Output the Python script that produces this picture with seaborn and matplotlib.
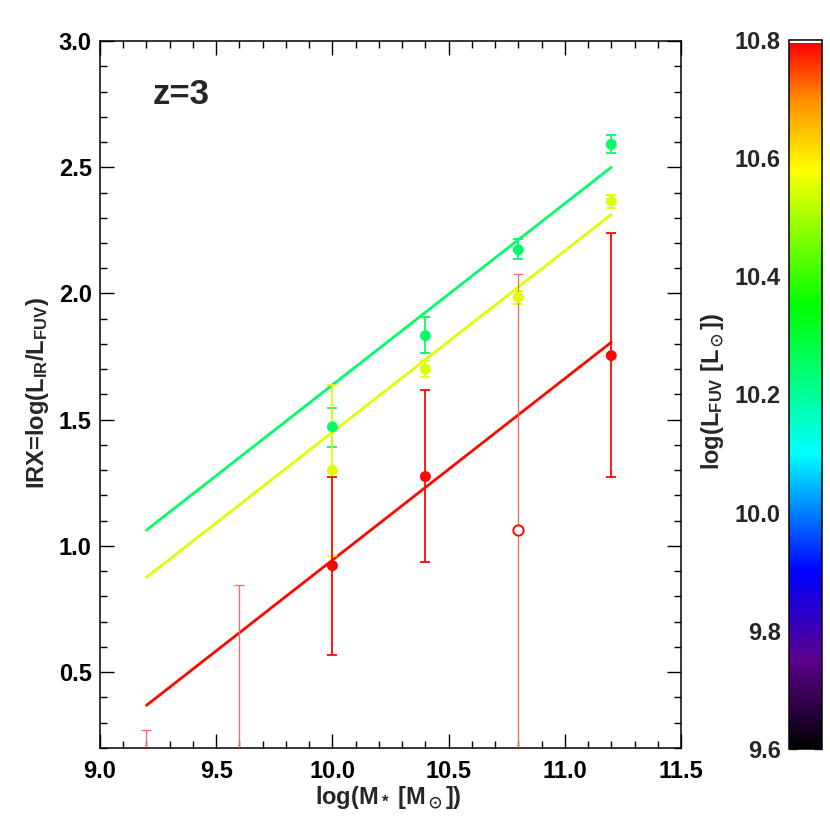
import matplotlib

matplotlib.use("Agg")
import matplotlib.pyplot as plt
import pandas as pd
import seaborn as sns
from matplotlib.cm import ScalarMappable
from matplotlib.colors import LinearSegmentedColormap, Normalize
from matplotlib.ticker import MultipleLocator


# log(L_FUV) of the three bins (sets the colour through the colour bar)
bin_lfuv = [10.25, 10.55, 10.79]

# fitted IRX - M* relations, drawn between these masses
fit_mass = [9.2, 11.2]
fit_start = [1.063, 0.876, 0.369]
fit_end = [2.500, 2.313, 1.807]

# measured points per bin
mass = [10.0, 10.4, 10.8, 11.2]
irx_green = [1.472, 1.833, 2.173, 2.591]
lo_green = [1.393, 1.763, 2.135, 2.557]
hi_green = [1.547, 1.906, 2.214, 2.626]

irx_yellow = [1.300, 1.700, 1.985, 2.365]
lo_yellow = [0.960, 1.670, 1.960, 2.340]
hi_yellow = [1.639, 1.734, 2.010, 2.389]

mass_red = [10.0, 10.4, 11.2]
irx_red = [0.922, 1.275, 1.754]
lo_red = [0.567, 0.935, 1.275]
hi_red = [1.275, 1.619, 2.240]

# faint red bins (upper ends only inside the plot)
mass_faint = [9.2, 9.6, 10.8]
lo_faint = [0.0, 0.0, 0.0]
hi_faint = [0.273, 0.845, 2.078]
open_mass = [10.8]
open_irx = [1.063]

x_ticks = [9.0, 9.5, 10.0, 10.5, 11.0, 11.5]
y_ticks = [0.5, 1.0, 1.5, 2.0, 2.5, 3.0]
cbar_ticks = [9.6, 9.8, 10.0, 10.2, 10.4, 10.6, 10.8]

FS = 17


def main():
    sns.set_theme(style="ticks")
    plt.rcParams["font.family"] = ["Liberation Sans", "DejaVu Sans"]
    plt.rcParams["font.weight"] = "bold"
    plt.rcParams["mathtext.fontset"] = "custom"
    plt.rcParams["mathtext.rm"] = "Liberation Sans:bold"
    plt.rcParams["mathtext.it"] = "Liberation Sans:bold"
    plt.rcParams["mathtext.bf"] = "Liberation Sans:bold"
    plt.rcParams["mathtext.fallback"] = "stixsans"

    # IDL-like rainbow + white table
    cmap = LinearSegmentedColormap.from_list(
        "rainbow_white",
        [
            (0.0, (0, 0, 0)),
            (0.125, (0.36, 0.0, 0.55)),
            (0.25, (0.0, 0.0, 1.0)),
            (0.417, (0.0, 1.0, 1.0)),
            (0.625, (0.0, 1.0, 0.0)),
            (0.817, (1.0, 1.0, 0.0)),
            (0.917, (1.0, 0.55, 0.0)),
            (0.996, (1.0, 0.0, 0.0)),
            (0.997, (1.0, 1.0, 1.0)),
            (1.0, (1.0, 1.0, 1.0)),
        ],
        N=1024,
    )
    norm = Normalize(9.6, 10.8)

    fig = plt.figure(figsize=(8.3, 8.3), dpi=100)
    ax = fig.add_axes([0.1205, 0.0988, 0.700, 0.8518])

    fit_df = pd.DataFrame(
        {
            "logM": fit_mass * 3,
            "IRX": [v for pair in zip(fit_start, fit_end) for v in pair],
            "lfuv": [v for v in bin_lfuv for _ in fit_mass],
        }
    )
    sns.lineplot(
        data=fit_df, x="logM", y="IRX", hue="lfuv", palette=cmap,
        hue_norm=norm, linewidth=2.0, legend=False, ax=ax, zorder=2,
    )

    groups = [
        (bin_lfuv[0], mass, irx_green, lo_green, hi_green),
        (bin_lfuv[1], mass, irx_yellow, lo_yellow, hi_yellow),
        (bin_lfuv[2], mass_red, irx_red, lo_red, hi_red),
    ]
    pts = []
    for lf, xs, ys, lo, hi in groups:
        col = cmap(norm(lf))
        ax.errorbar(
            xs, ys,
            yerr=[[y - l for y, l in zip(ys, lo)], [h - y for y, h in zip(ys, hi)]],
            fmt="none", ecolor=col, elinewidth=1.3, capsize=3.5, capthick=1.3, zorder=3,
        )
        pts += [{"logM": x, "IRX": y, "lfuv": lf} for x, y in zip(xs, ys)]

    faint = (1.0, 0.4, 0.4)
    ax.errorbar(
        mass_faint, hi_faint,
        yerr=[[h - l for h, l in zip(hi_faint, lo_faint)], [0] * len(hi_faint)],
        fmt="none", ecolor=faint, elinewidth=0.9, capsize=3.5, capthick=0.9, zorder=3,
    )

    pts_df = pd.DataFrame(pts)
    sns.scatterplot(
        data=pts_df, x="logM", y="IRX", hue="lfuv", palette=cmap, hue_norm=norm,
        s=62, linewidth=0, legend=False, ax=ax, zorder=4,
    )
    ax.scatter(open_mass, open_irx, s=55, facecolors="white",
               edgecolors=cmap(norm(bin_lfuv[2])), linewidths=1.4, zorder=4)

    ax.set_xlim(9.0, 11.5)
    ax.set_ylim(0.2, 3.0)
    ax.set_xticks(x_ticks)
    ax.set_yticks(y_ticks)
    ax.set_xticklabels([f"{t:.1f}" for t in x_ticks])
    ax.set_yticklabels([f"{t:.1f}" for t in y_ticks])
    ax.xaxis.set_minor_locator(MultipleLocator(0.1))
    ax.yaxis.set_minor_locator(MultipleLocator(0.1))
    ax.tick_params(which="both", direction="in", top=True, right=True,
                   width=1.0, colors="black", labelsize=FS)
    ax.tick_params(which="major", length=10)
    ax.tick_params(which="minor", length=5)
    ax.tick_params(axis="x", pad=9)
    ax.tick_params(axis="y", pad=6)
    for s in ax.spines.values():
        s.set_linewidth(1.1)
        s.set_color("black")
    ax.set_xlabel("")
    ax.set_ylabel("")

    fig.text(0.4675, 0.032, r"log(M$_*$ [M$_\odot$])", ha="center",
             va="baseline", fontsize=FS, fontweight="bold")
    fig.text(0.045, 0.527, r"IRX=log(L$_{IR}$/L$_{FUV}$)", ha="center",
             va="center", rotation=90, fontsize=FS, fontweight="bold")
    ax.text(0.09, 0.925, "z=3", transform=ax.transAxes, ha="left", va="center",
            fontsize=25, fontweight="bold")

    # colour bar
    cax = fig.add_axes([0.9506, 0.0976, 0.0398, 0.8542])
    cb = fig.colorbar(ScalarMappable(norm=norm, cmap=cmap), cax=cax)
    cb.outline.set_linewidth(1.1)
    cb.outline.set_edgecolor("black")
    cb.set_ticks(cbar_ticks)
    cb.set_ticklabels([f"{t:.1f}" for t in cbar_ticks])
    cax.yaxis.set_minor_locator(MultipleLocator(0.1))
    cax.tick_params(which="both", direction="in", left=True, right=True,
                    labelleft=True, labelright=False, width=1.0, labelsize=FS, pad=6)
    cax.tick_params(which="major", length=6)
    cax.tick_params(which="minor", length=3)
    fig.text(0.858, 0.528, r"log(L$_{FUV}$ [L$_\odot$])", ha="center",
             va="center", rotation=90, fontsize=FS, fontweight="bold")

    fig.savefig("out.png", dpi=100)
    plt.close(fig)


if __name__ == "__main__":
    main()
